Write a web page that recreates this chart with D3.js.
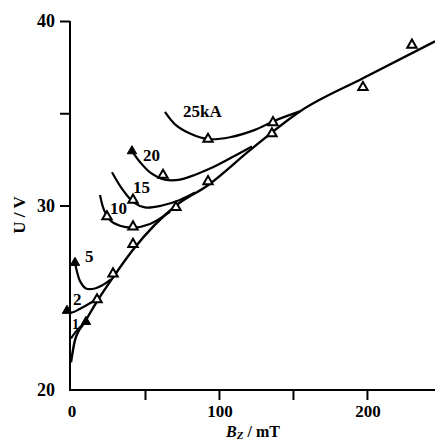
<!DOCTYPE html>
<html><head><meta charset="utf-8">
<script src="https://cdn.jsdelivr.net/npm/d3@7"></script>
<style>body{margin:0;background:#fff}svg{display:block}</style>
</head><body>
<svg id="c" width="435" height="443"></svg>
<script>
// Data (B in mT, U in V)
const xTicks = [0, 100, 200];
const xMinorTicks = [50, 150];
const yTicks = [20, 30, 40];
const yMinorTicks = [35];

const mainB = [0, 2.7, 9.5, 17.6, 28.4, 41.9, 71, 92.6, 121, 154.7, 197.3, 246];
const mainU = [21.5, 22.7, 23.7, 24.8, 26.1, 27.6, 30.0, 31.1, 33.0, 35.1, 36.9, 38.9];
const mainPtsB = [17.6, 28.4, 41.9, 70.9, 92.6, 135.8, 197.3, 230.4];
const mainPtsU = [24.9, 26.3, 27.9, 29.9, 31.3, 33.9, 36.4, 38.7];

const c1B = [0, 4.7, 10.1];
const c1U = [22.8, 23.3, 23.7];
const c2B = [-2.7, 0.7, 6.1, 12.8, 18.9];
const c2U = [24.3, 24.2, 24.4, 24.7, 25.0];
const c5B = [2.7, 4.1, 6.1, 10.1, 16.2, 21.6, 27.0];
const c5U = [26.9, 26.4, 25.9, 25.5, 25.5, 25.7, 26.0];
const c10B = [19.6, 22.3, 26.4, 33.1, 41.9, 53.4, 66.9];
const c10U = [30.57, 29.76, 29.2, 28.9, 28.8, 29.0, 29.65];
const c15B = [27.7, 34.5, 41.9, 50, 61.5, 73.6, 83.8];
const c15U = [31.8, 30.9, 30.2, 29.9, 30.0, 30.3, 30.7];
const c20B = [41.2, 46.6, 53.4, 63.5, 73.6, 93.9, 110.8, 122.3];
const c20U = [32.95, 32.36, 31.8, 31.4, 31.4, 32.0, 32.7, 33.2];
const c25B = [63.5, 70.3, 80.4, 92.6, 107.4, 124.3, 137.8, 154.7];
const c25U = [35.07, 34.4, 33.9, 33.6, 33.7, 34.1, 34.6, 35.1];

const openPtsB = [24.3, 41.9, 41.9, 62.2, 92.6, 136.5];
const openPtsU = [29.4, 28.85, 30.3, 31.65, 33.6, 34.5];
const filledPtsB = [10.1, -2.7, 2.7, 41.2];
const filledPtsU = [23.7, 24.3, 26.9, 32.95];

const curveLabels = ["25kA", "20", "15", "10", "5", "2", "1"];
const labelB = [75.7, 48.6, 41.9, 26.4, 9.5, 1.4, 0.7];
const labelU = [34.8, 32.4, 30.7, 29.55, 26.95, 24.6, 23.3];

const svg = d3.select("#c");
const x = d3.scaleLinear().domain([0, 246]).range([71, 435]);
const y = d3.scaleLinear().domain([20, 40]).range([390, 21]);

const serif = "'Liberation Serif','DejaVu Serif',serif";

// Axes
const xAxis = d3.axisBottom(x).tickValues(xMinorTicks.concat([100, 200])).tickSize(10).tickFormat("");
const gx = svg.append("g").attr("transform", `translate(0,${y(20)})`).call(xAxis);
gx.select(".domain").attr("d", `M${x(0) - 1},0H435`);
const yAxis = d3.axisLeft(y).tickValues(yMinorTicks.concat([30, 40])).tickSize(10).tickFormat("");
const gy = svg.append("g").attr("transform", `translate(${x(0) - 1},0)`).call(yAxis);
gy.select(".domain").attr("d", `M0,${y(40)}V${y(20) + 1}`);
svg.selectAll(".domain, .tick line").attr("stroke", "#000").attr("stroke-width", 2);

// tick labels
svg.append("g").selectAll("text").data(xTicks).join("text")
  .attr("x", d => x(d) + 1).attr("y", 417).attr("text-anchor", "middle")
  .attr("font-family", serif).attr("font-weight", "bold").attr("font-size", 17)
  .text(d => d);
svg.append("g").selectAll("text").data(yTicks).join("text")
  .attr("x", 55).attr("y", d => y(d) + 6).attr("text-anchor", "end")
  .attr("font-family", serif).attr("font-weight", "bold").attr("font-size", 18)
  .text(d => d);

// axis titles
svg.append("text").attr("transform", "translate(25,215) rotate(-90)")
  .attr("text-anchor", "middle").attr("font-family", serif).attr("font-weight", "bold")
  .attr("font-size", 17).text("U / V");
const xt = svg.append("text").attr("x", 253).attr("y", 437).attr("text-anchor", "middle")
  .attr("font-family", serif).attr("font-weight", "bold").attr("font-size", 16);
xt.append("tspan").attr("font-style", "italic").text("B");
xt.append("tspan").attr("font-style", "italic").attr("font-size", 11).attr("dy", 2).text("Z");
xt.append("tspan").attr("dy", -2).text(" / mT");

// lines
const zip = (bs, us) => bs.map((b, i) => [b, us[i]]);
const lineMono = d3.line().x(d => x(d[0])).y(d => y(d[1])).curve(d3.curveMonotoneX);
const lineCR = d3.line().x(d => x(d[0])).y(d => y(d[1])).curve(d3.curveCatmullRom.alpha(0.5));
svg.append("path").attr("d", lineMono(zip(mainB, mainU)))
  .attr("fill", "none").attr("stroke", "#000").attr("stroke-width", 2.4);
[[c1B, c1U], [c2B, c2U], [c5B, c5U], [c10B, c10U], [c15B, c15U], [c20B, c20U], [c25B, c25U]]
  .forEach(([bs, us]) => {
    svg.append("path").attr("d", lineCR(zip(bs, us)))
      .attr("fill", "none").attr("stroke", "#000").attr("stroke-width", 2.2);
  });

// markers
const tri = d3.symbol().type(d3.symbolTriangle).size(38);
svg.append("g").selectAll("path").data(zip(mainPtsB, mainPtsU).concat(zip(openPtsB, openPtsU))).join("path")
  .attr("d", tri).attr("transform", d => `translate(${x(d[0])},${y(d[1])})`)
  .attr("fill", "#fff").attr("stroke", "#000").attr("stroke-width", 2);
svg.append("g").selectAll("path").data(zip(filledPtsB, filledPtsU)).join("path")
  .attr("d", tri).attr("transform", d => `translate(${x(d[0])},${y(d[1])})`)
  .attr("fill", "#000").attr("stroke", "#000").attr("stroke-width", 1);

// curve labels
svg.append("g").selectAll("text").data(curveLabels).join("text")
  .attr("x", (d, i) => x(labelB[i])).attr("y", (d, i) => y(labelU[i]))
  .attr("font-family", serif).attr("font-weight", "bold")
  .attr("font-size", (d, i) => i === 6 ? 14 : 17)
  .text(d => d);
</script>
</body></html>
